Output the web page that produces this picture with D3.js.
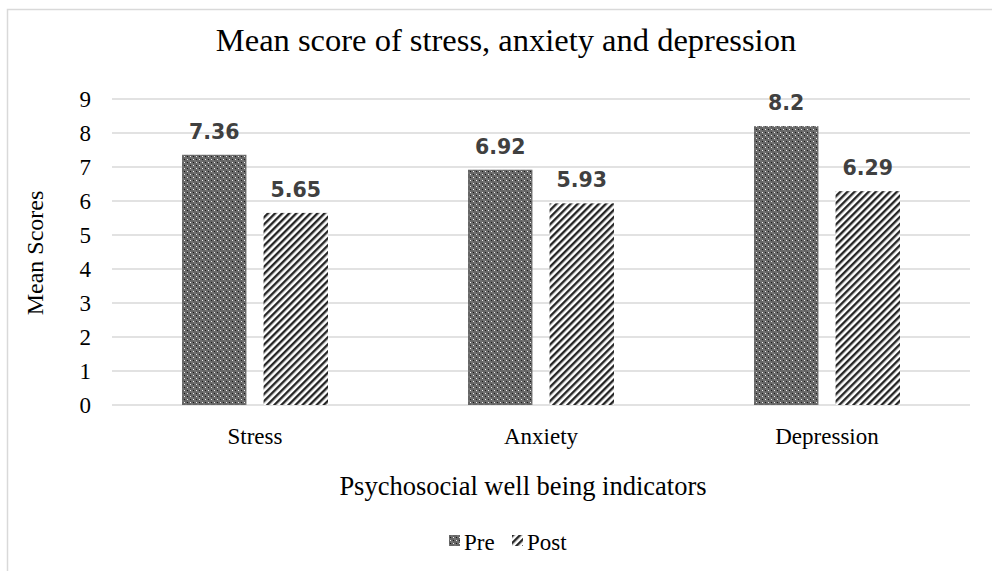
<!DOCTYPE html>
<html><head><meta charset="utf-8">
<script src="https://cdn.jsdelivr.net/npm/d3@7"></script>
<style>body{margin:0;background:#fff;}svg{display:block;}</style>
</head><body>
<script>
const categories = ["Stress", "Anxiety", "Depression"];
const seriesNames = ["Pre", "Post"];
const preValues = [7.36, 6.92, 8.2];
const postValues = [5.65, 5.93, 6.29];
const yTicks = [0,1,2,3,4,5,6,7,8,9];
const titleText = "Mean score of stress, anxiety and depression";
const xTitle = "Psychosocial well being indicators";
const yTitle = "Mean Scores";

const W = 992, H = 571;
const m = {left:112, right:22, top:99, bottom:166};
const serif = "Liberation Serif, Times New Roman, serif";
const svg = d3.select("body").append("svg").attr("width", W).attr("height", H);
const defs = svg.append("defs");

// Pre: dotted checker pattern
const p1 = defs.append("pattern").attr("id","patPre").attr("patternUnits","userSpaceOnUse")
  .attr("width",6).attr("height",6);
p1.append("rect").attr("width",6).attr("height",6).attr("fill","#666666");
p1.append("rect").attr("x",0).attr("y",0).attr("width",1).attr("height",1).attr("fill","#f2f2f2");
p1.append("rect").attr("x",3).attr("y",3).attr("width",1).attr("height",1).attr("fill","#f2f2f2");
p1.append("rect").attr("x",3).attr("y",0).attr("width",1).attr("height",1).attr("fill","#1a1a1a");
p1.append("rect").attr("x",0).attr("y",3).attr("width",1).attr("height",1).attr("fill","#1a1a1a");
p1.append("rect").attr("x",1.5).attr("y",1.5).attr("width",1).attr("height",1).attr("fill","#9a9a9a");
p1.append("rect").attr("x",4.5).attr("y",4.5).attr("width",1).attr("height",1).attr("fill","#9a9a9a");

// Post: wide upward diagonal
const p2 = defs.append("pattern").attr("id","patPost").attr("patternUnits","userSpaceOnUse")
  .attr("width",5).attr("height",5).attr("patternTransform","rotate(45)");
p2.append("rect").attr("width",5).attr("height",5).attr("fill","#ffffff");
p2.append("rect").attr("width",2.4).attr("height",5).attr("fill","#262626");

const fills = {Pre:"url(#patPre)", Post:"url(#patPost)"};

// Frame
svg.append("rect").attr("x",7.5).attr("y",9.5).attr("width",1000).attr("height",600)
  .attr("fill","none").attr("stroke","#d9d9d9").attr("stroke-width",1.5);

const x0 = d3.scaleBand().domain(categories).range([m.left, W - m.right]).paddingInner(0).paddingOuter(0);
const x1 = d3.scaleBand().domain(seriesNames).range([70, x0.bandwidth()-70]).paddingInner(0.21);
const y = d3.scaleLinear().domain([0,9]).range([H - m.bottom, m.top]);

// gridlines
svg.append("g").selectAll("line").data(yTicks).join("line")
  .attr("x1", m.left).attr("x2", W - m.right)
  .attr("y1", d=>y(d)).attr("y2", d=>y(d))
  .attr("stroke","#d9d9d9").attr("stroke-width",1.3);

// y tick labels
svg.append("g").selectAll("text").data(yTicks).join("text")
  .attr("x", 91).attr("y", d=>y(d)).attr("dy","0.35em").attr("text-anchor","end")
  .attr("font-family",serif).attr("font-size",23).attr("fill","#000")
  .text(d=>d);

const rows = categories.map((c,i)=>({cat:c, vals:[{s:"Pre", v:preValues[i]},{s:"Post", v:postValues[i]}]}));
const groups = svg.append("g").selectAll("g").data(rows).join("g")
  .attr("transform", d=>`translate(${x0(d.cat)},0)`);
groups.selectAll("rect").data(d=>d.vals).join("rect")
  .attr("x", d=>x1(d.s)).attr("width", x1.bandwidth())
  .attr("y", d=>y(d.v)).attr("height", d=>y(0)-y(d.v))
  .attr("fill", d=>fills[d.s]);
groups.selectAll("text").data(d=>d.vals).join("text")
  .attr("x", d=>x1(d.s)+x1.bandwidth()/2).attr("y", d=>y(d.v)-16)
  .attr("text-anchor","middle")
  .attr("font-family","DejaVu Sans, sans-serif").attr("font-weight","bold").attr("font-size",20.5)
  .attr("fill","#404040").text(d=>d.v);

// category labels
svg.append("g").selectAll("text").data(categories).join("text")
  .attr("x", d=>x0(d)+x0.bandwidth()/2).attr("y", 444).attr("text-anchor","middle")
  .attr("font-family",serif).attr("font-size",23).attr("fill","#000")
  .text(d=>d);

// titles
svg.append("text").attr("x",506).attr("y",51).attr("text-anchor","middle")
  .attr("font-family",serif).attr("font-size",32.5).attr("fill","#000")
  .text(titleText);
svg.append("text").attr("x",523).attr("y",495).attr("text-anchor","middle")
  .attr("font-family",serif).attr("font-size",26.5).attr("fill","#000")
  .text(xTitle);
svg.append("text").attr("transform","translate(43,253) rotate(-90)").attr("text-anchor","middle")
  .attr("font-family",serif).attr("font-size",24).attr("fill","#000")
  .text(yTitle);

// legend
const lg = svg.append("g");
const legendItems = [{s:"Pre", x:449},{s:"Post", x:512}];
lg.selectAll("rect").data(legendItems).join("rect")
  .attr("x", d=>d.x).attr("y",535).attr("width",11).attr("height",11).attr("fill", d=>fills[d.s]);
lg.selectAll("text").data(legendItems).join("text")
  .attr("x", d=>d.x+15).attr("y",550)
  .attr("font-family",serif).attr("font-size",23).attr("fill","#000")
  .text(d=>d.s);
</script>
</body></html>
